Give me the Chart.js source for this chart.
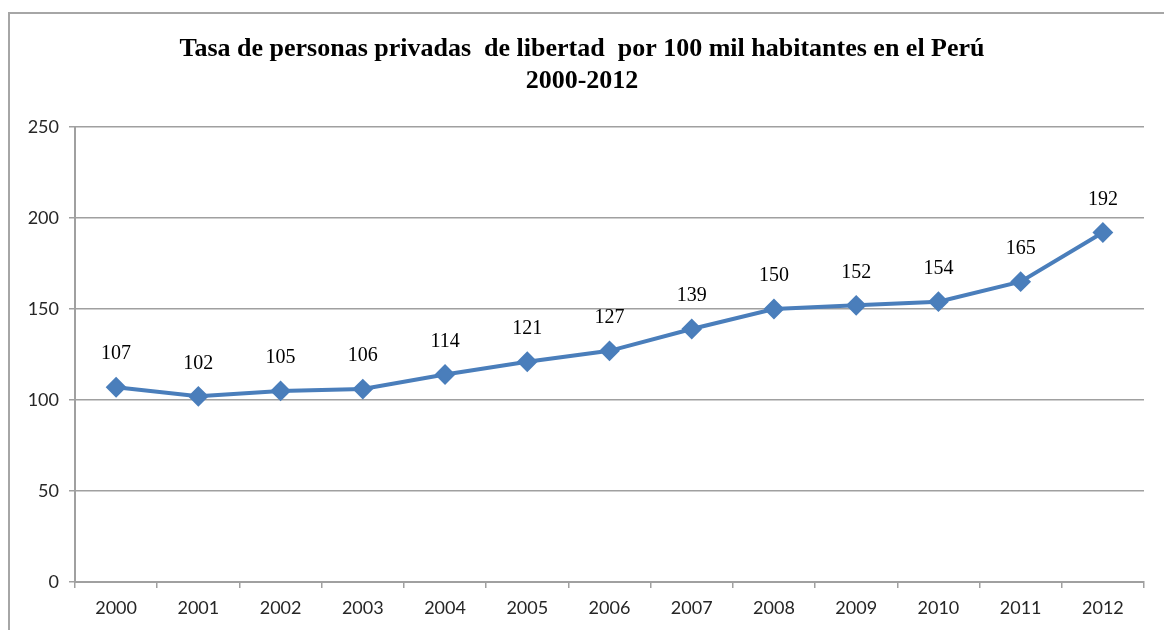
<!DOCTYPE html>
<html>
<head>
<meta charset="utf-8">
<script src="https://cdn.jsdelivr.net/npm/chart.js@4"></script>
<style>
  html, body { margin: 0; padding: 0; background: #fff; }
  #wrap { position: relative; width: 1164px; height: 630px; overflow: hidden; }
  #frame { position: absolute; left: 8px; top: 12px; width: 1200px; height: 700px; border: 2px solid #a6a6a6; }
  #rate-chart { position: absolute; left: 0; top: 0; }
</style>
</head>
<body>
<div id="wrap">
  <div id="frame"></div>
  <canvas id="rate-chart" width="1164" height="630"></canvas>
</div>
<script>
var years = ['2000', '2001', '2002', '2003', '2004', '2005', '2006', '2007', '2008', '2009', '2010', '2011', '2012'];
var rates = [107, 102, 105, 106, 114, 121, 127, 139, 150, 152, 154, 165, 192];
var titleLines = ['Tasa de personas privadas  de libertad  por 100 mil habitantes en el Perú', '2000-2012'];

var lineColor = '#4a7ebb';
var gridColor = '#a0a0a0';
var tickColor = '#262626';

// data labels above each point, serif like the original
var pointLabels = {
  id: 'pointLabels',
  afterDatasetsDraw: function (chart) {
    var ctx = chart.ctx;
    var meta = chart.getDatasetMeta(0);
    ctx.save();
    ctx.font = '20px "Liberation Serif", "Times New Roman", serif';
    ctx.fillStyle = '#000';
    ctx.textAlign = 'center';
    ctx.textBaseline = 'middle';
    meta.data.forEach(function (pt, i) {
      ctx.fillText(String(rates[i]), pt.x, pt.y - 33);
    });
    ctx.restore();
  }
};

new Chart(document.getElementById('rate-chart'), {
  type: 'line',
  data: {
    labels: years,
    datasets: [{
      data: rates,
      borderColor: lineColor,
      backgroundColor: lineColor,
      borderWidth: 4,
      pointStyle: 'rectRot',
      pointRadius: 9,
      pointBorderWidth: 2,
      pointBorderColor: lineColor,
      pointBackgroundColor: lineColor,
      tension: 0
    }]
  },
  options: {
    responsive: false,
    animation: false,
    layout: { padding: 0 },
    plugins: {
      legend: { display: false },
      tooltip: { enabled: false },
      title: {
        display: true,
        text: titleLines,
        color: '#000',
        font: { family: '"Liberation Serif", "Times New Roman", serif', size: 26, weight: 'bold', lineHeight: 1.23 },
        padding: { top: 33, bottom: 30 }
      }
    },
    scales: {
      x: {
        offset: true,
        grid: { offset: true, drawOnChartArea: false, color: gridColor, tickLength: 6, lineWidth: 1.5 },
        border: { color: gridColor, width: 2 },
        ticks: { color: tickColor, font: { family: 'Lato, "Noto Sans", sans-serif', size: 18 }, padding: 9, maxRotation: 0 },
        afterFit: function (s) { s.height = 48; }
      },
      y: {
        min: 0,
        max: 250,
        ticks: { stepSize: 50, color: tickColor, font: { family: 'Lato, "Noto Sans", sans-serif', size: 18 }, padding: 10 },
        grid: { color: gridColor, tickLength: 6, lineWidth: 1.5 },
        border: { color: gridColor, width: 2 },
        afterFit: function (s) { s.width = 75; }
      },
      // empty right-hand axis: keeps the plot ending short of the edge while the title stays centred on the page
      spacer: {
        type: 'linear',
        position: 'right',
        min: 0,
        max: 250,
        grid: { display: false },
        border: { display: false },
        ticks: { display: false },
        afterFit: function (s) { s.width = 20; }
      }
    }
  },
  plugins: [pointLabels]
});
</script>
</body>
</html>
